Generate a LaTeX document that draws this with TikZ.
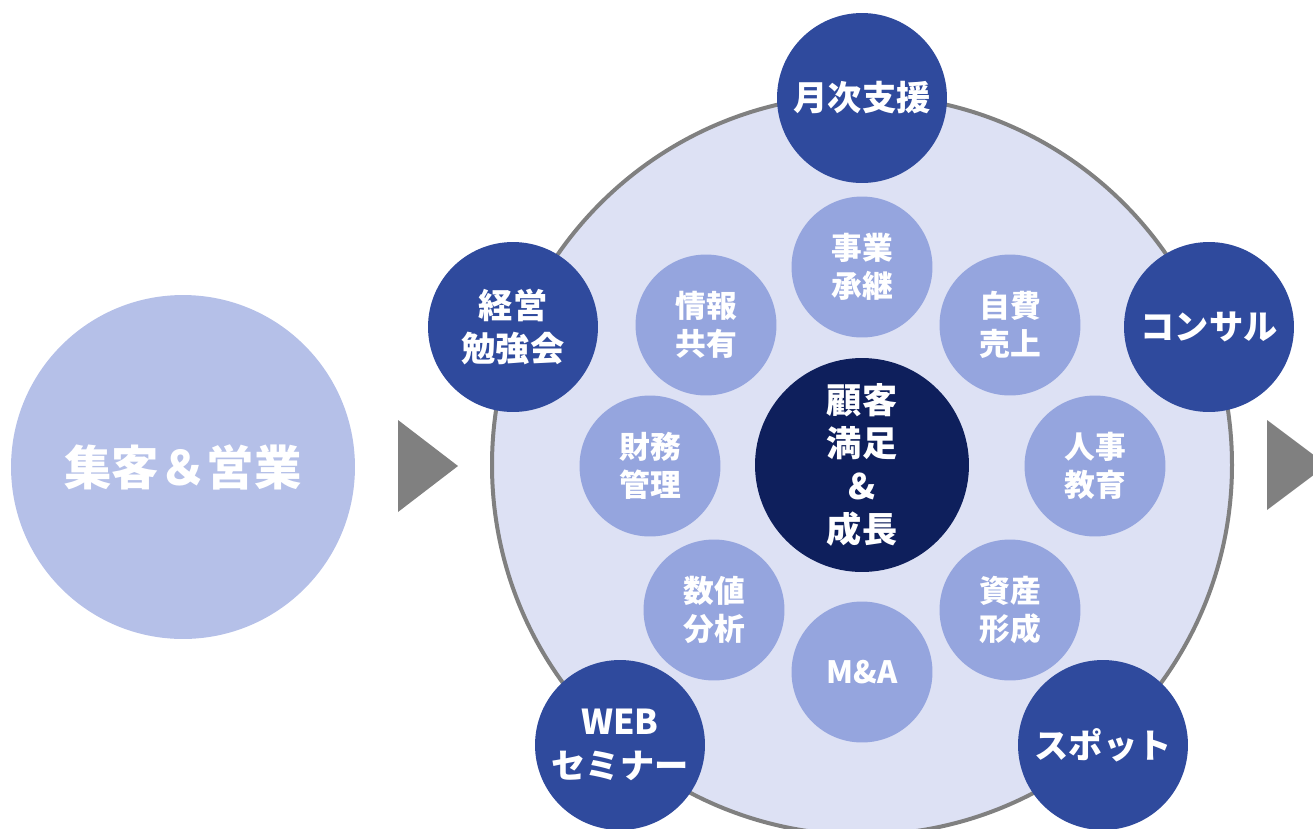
\documentclass[tikz,border=0pt]{standalone}
\usepackage{fontspec}
\setmainfont{Noto Sans CJK JP}
\usepackage{tikz}
\definecolor{ringfill}{HTML}{DDE1F4}
\definecolor{ringline}{HTML}{808080}
\definecolor{corefill}{HTML}{0E1F5C}
\definecolor{innerfill}{HTML}{95A5DE}
\definecolor{outerfill}{HTML}{2F4A9D}
\definecolor{leftfill}{HTML}{B5C0E8}

\begin{document}
\begin{tikzpicture}[x=0.02cm, y=-0.02cm,
		every node/.style={circle, align=center, text=white, font=\bfseries, inner sep=0pt},
		core/.style={fill=corefill, minimum size=4.28cm, font=\bfseries\fontsize{20}{24.5}\selectfont},
		inner/.style={fill=innerfill, minimum size=2.82cm, font=\bfseries\fontsize{17.5}{21.6}\selectfont},
		outer/.style={fill=outerfill, minimum size=3.4cm, font=\bfseries\fontsize{19.5}{25}\selectfont},
		lead/.style={fill=leftfill, minimum size=6.88cm, font=\bfseries\fontsize{27}{32}\selectfont}]
			%%%%% START %%%%%
			
			\useasboundingbox (0, 0) rectangle (1313, 829);
			
			\node[lead] (shukyaku) at (183, 467) {集客＆営業};
			\fill[ringline] (398, 420) -- (398, 512) -- (458, 466) -- cycle;
			\fill[ringline] (1267, 420) -- (1267, 510) -- (1327, 465) -- cycle;
			
			\draw[line width=0.08cm, draw=ringline, fill=ringfill] (862, 465) circle (370);
			
			\node[core] (kokyaku) at (862, 465) {顧客\\満足\\\&\\成長};
			
			\node[inner] (jigyo) at (862, 267) {事業\\承継};
			\node[inner] (jihi) at (1010, 325) {自費\\売上};
			\node[inner] (jinji) at (1095, 466) {人事\\教育};
			\node[inner] (shisan) at (1010, 610) {資産\\形成};
			\node[inner] (ma) at (862, 672) {M\&A};
			\node[inner] (suchi) at (714, 610) {数値\\分析};
			\node[inner] (zaimu) at (650, 466) {財務\\管理};
			\node[inner] (joho) at (706, 325) {情報\\共有};
			
			\node[outer] (getsuji) at (862, 98) {月次支援};
			\node[outer] (consul) at (1209, 327) {コンサル};
			\node[outer] (spot) at (1103, 745) {スポット};
			\node[outer] (web) at (620, 745) {WEB\\セミナー};
			\node[outer] (keiei) at (513, 327) {経営\\勉強会};
			
			%%%%% END %%%%%
		\end{tikzpicture}
\end{document}
